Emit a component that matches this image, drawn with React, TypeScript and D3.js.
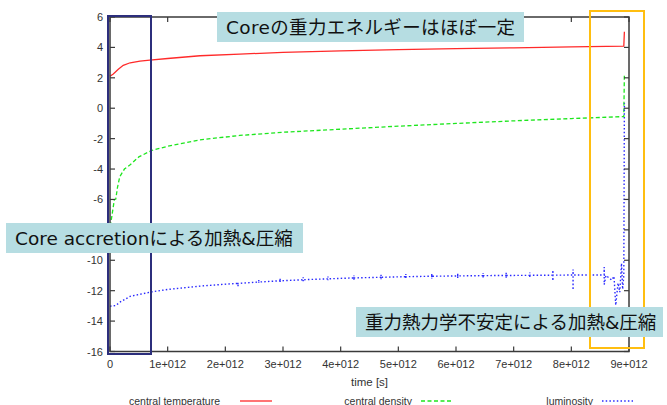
import React from "react";
import * as d3 from "d3";

// time in units of 1e12 s, value in log scale
const temperature: [number, number][] = [
  [0, 2.1], [0.057, 2.25], [0.144, 2.56], [0.23, 2.82], [0.35, 2.99], [0.52, 3.1],
  [0.69, 3.17], [1.0, 3.27], [1.56, 3.45], [2.25, 3.56], [3.0, 3.67], [4.0, 3.77],
  [5.0, 3.85], [6.0, 3.92], [7.0, 3.97], [8.0, 4.03], [8.91, 4.09], [8.92, 5.03],
];

const density: [number, number][] = [
  [0, -8.2], [0.02, -7.4], [0.06, -6.4], [0.075, -6.02], [0.1, -5.98], [0.13, -5.2],
  [0.17, -4.5], [0.25, -4.0], [0.35, -3.72], [0.5, -3.2], [0.72, -2.78], [1.0, -2.5],
  [1.56, -2.08], [2.25, -1.79], [3.0, -1.58], [4.0, -1.38], [5.0, -1.18], [6.0, -1.0],
  [7.0, -0.83], [8.0, -0.68], [8.91, -0.55], [8.92, 2.3],
];

const luminosity: [number, number][] = [
  [0, -13.02], [0.1, -12.98], [0.17, -12.76], [0.35, -12.37], [0.72, -12.08],
  [1.0, -11.92], [1.56, -11.7], [2.08, -11.55],
  [2.22, -11.52], [2.22, -11.72], [2.22, -11.52],
  [2.5, -11.45], [2.58, -11.43], [2.58, -11.3], [2.58, -11.5], [2.58, -11.43],
  [2.95, -11.35], [2.95, -11.2], [2.95, -11.45], [2.95, -11.35],
  [3.35, -11.28], [3.35, -11.12], [3.35, -11.38], [3.35, -11.28],
  [3.78, -11.22], [3.78, -11.06], [3.78, -11.32], [3.78, -11.22],
  [4.23, -11.16], [4.23, -11.0], [4.23, -11.3], [4.23, -11.16],
  [4.7, -11.12], [4.7, -10.95], [4.7, -11.25], [4.7, -11.12],
  [5.13, -11.08], [5.13, -10.9], [5.13, -11.22], [5.13, -11.08],
  [5.58, -11.05], [5.58, -10.88], [5.58, -11.2], [5.58, -11.05],
  [6.03, -11.03], [6.03, -10.85], [6.03, -11.18], [6.03, -11.03],
  [6.47, -11.01], [6.47, -10.83], [6.47, -11.15], [6.47, -11.01],
  [6.87, -11.0], [6.87, -10.82], [6.87, -11.15], [6.87, -11.0],
  [7.28, -10.99], [7.28, -10.8], [7.28, -11.14], [7.28, -10.99],
  [7.68, -10.98], [7.68, -10.65], [7.68, -11.35], [7.68, -10.98],
  [8.03, -10.97], [8.03, -10.6], [8.03, -11.95], [8.03, -10.97],
  [8.5, -10.97], [8.57, -10.98], [8.57, -10.45], [8.57, -11.6], [8.6, -11.0],
  [8.7, -11.3], [8.74, -11.05], [8.77, -12.95], [8.81, -11.5], [8.84, -12.1],
  [8.87, -10.2], [8.89, -11.9], [8.91, -11.0], [8.92, 0.34],
];

const xTicks = [0, 1, 2, 3, 4, 5, 6, 7, 8, 9];
const xTickLabels = ["0", "1e+012", "2e+012", "3e+012", "4e+012", "5e+012", "6e+012", "7e+012", "8e+012", "9e+012"];
const yTicks = [6, 4, 2, 0, -2, -4, -6, -8, -10, -12, -14, -16];
const xLabel = "time [s]";
const legendLabels = ["central temperature", "central density", "luminosity"];
const annotations = [
  "Coreの重力エネルギーはほぼ一定",
  "Core accretionによる加熱&圧縮",
  "重力熱力学不安定による加熱&圧縮",
];

const W = 667;
const H = 405;
const L = 110, R = 629, T = 17, B = 351.5;

export default function App() {
  const x = d3.scaleLinear().domain([0, 9]).range([L, R]);
  const y = d3.scaleLinear().domain([-16, 6]).range([B, T]);
  const line = d3.line<[number, number]>().x((d) => x(d[0])).y((d) => y(d[1]));

  const axisColor = "#3a3a3a";
  const textColor = "#333";
  const font = "'Liberation Sans', Arial, sans-serif";
  const jpFont = "'DejaVu Sans', 'Noto Sans CJK JP', sans-serif";
  const boxFill = "#b6dde2";

  const legendItems = [
    { label: legendLabels[0], textEnd: 220, l0: 240, l1: 272, color: "#ff2a2a", dash: "none" },
    { label: legendLabels[1], textEnd: 412, l0: 421, l1: 453, color: "#1ee61e", dash: "4,2.5" },
    { label: legendLabels[2], textEnd: 593, l0: 602, l1: 633, color: "#2a2aff", dash: "1.5,2.2" },
  ];

  return (
    <div style={{ position: "absolute", left: 0, top: 0 }}>
      <svg width={W} height={H} style={{ display: "block", background: "#fff" }}>
        {/* data */}
        <path d={line(temperature) || ""} fill="none" stroke="#ff2a2a" strokeWidth={1.3} />
        <path d={line(density) || ""} fill="none" stroke="#1ee61e" strokeWidth={1.3} strokeDasharray="4,2.5" />
        <path d={line(luminosity) || ""} fill="none" stroke="#2a2aff" strokeWidth={1.4} strokeDasharray="1.5,2.2" />

        {/* border */}
        <rect x={L} y={T} width={R - L} height={B - T} fill="none" stroke={axisColor} strokeWidth={1.5} />
        {xTicks.map((t, i) => (
          <g key={"xt" + i}>
            <line x1={x(t)} x2={x(t)} y1={B} y2={B - 5} stroke={axisColor} strokeWidth={1.2} />
            <line x1={x(t)} x2={x(t)} y1={T} y2={T + 5} stroke={axisColor} strokeWidth={1.2} />
            <text x={x(t)} y={367.5} textAnchor="middle" fontFamily={font} fontSize={11} fill={textColor}>
              {xTickLabels[i]}
            </text>
          </g>
        ))}
        {yTicks.map((v, i) => (
          <g key={"yt" + i}>
            <line x1={L} x2={L + 5} y1={y(v)} y2={y(v)} stroke={axisColor} strokeWidth={1.2} />
            <line x1={R} x2={R - 5} y1={y(v)} y2={y(v)} stroke={axisColor} strokeWidth={1.2} />
            <text x={103} y={y(v) + 4} textAnchor="end" fontFamily={font} fontSize={11} fill={textColor}>
              {v}
            </text>
          </g>
        ))}
        <text x={(L + R) / 2} y={385.5} textAnchor="middle" fontFamily={font} fontSize={11.5} fill={textColor}>
          {xLabel}
        </text>

        {/* legend */}
        {legendItems.map((it, i) => (
          <g key={"lg" + i}>
            <text x={it.textEnd} y={405} textAnchor="end" fontFamily={font} fontSize={10.5} fill={textColor}>
              {it.label}
            </text>
            <line x1={it.l0} x2={it.l1} y1={401} y2={401} stroke={it.color} strokeWidth={1.3} strokeDasharray={it.dash} />
          </g>
        ))}

        {/* highlight rectangles */}
        <rect x={108} y={16} width={43} height={338} fill="none" stroke="#2c2e7c" strokeWidth={2} />
        <rect x={590} y={11} width={54} height={337} fill="none" stroke="#ffbe10" strokeWidth={2} />

        {/* annotation boxes */}
        <rect x={217} y={12} width={307} height={30} fill={boxFill} />
        <text x={226} y={34} fontFamily={jpFont} fontSize={18.5} fill="#111" textLength={289} lengthAdjust="spacing">
          {annotations[0]}
        </text>
        <rect x={6} y={223} width={297} height={30} fill={boxFill} />
        <text x={15} y={245} fontFamily={jpFont} fontSize={18.5} fill="#111">
          {annotations[1]}
        </text>
        <rect x={356} y={307} width={307} height={30} fill={boxFill} />
        <text x={365} y={329} fontFamily={jpFont} fontSize={18.5} fill="#111">
          {annotations[2]}
        </text>
      </svg>
    </div>
  );
}
